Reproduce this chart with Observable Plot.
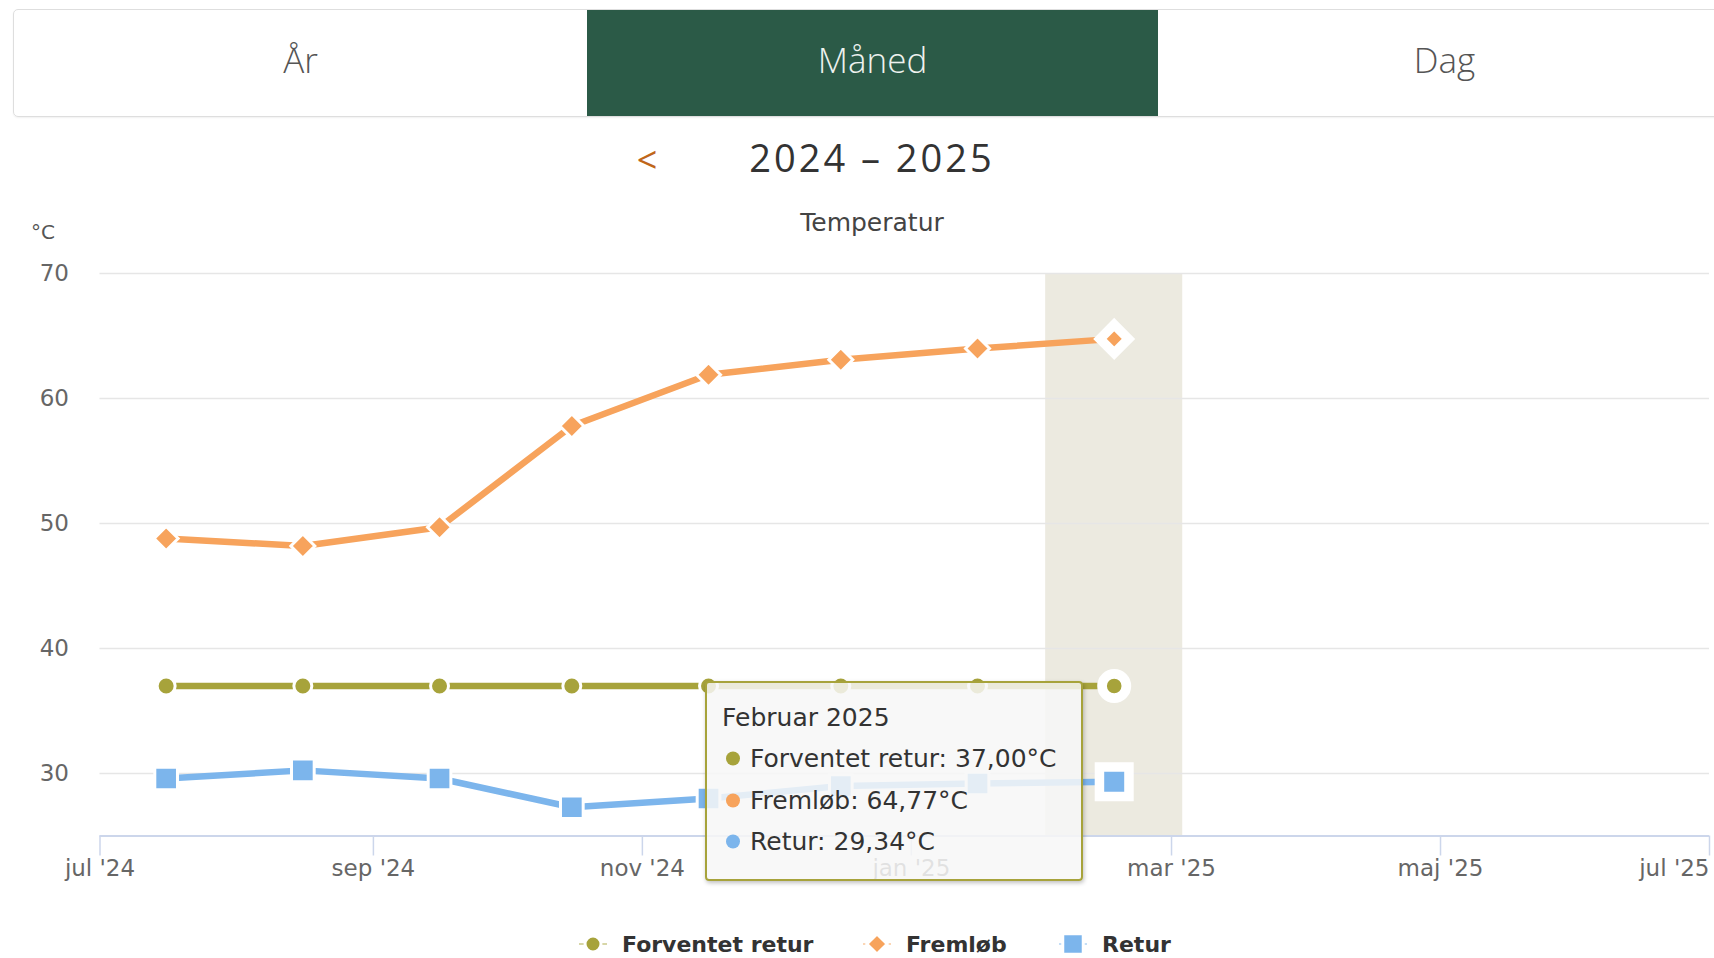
<!DOCTYPE html>
<html>
<head>
<meta charset="utf-8">
<script src="https://cdn.jsdelivr.net/npm/d3@7"></script>
<script src="https://cdn.jsdelivr.net/npm/@observablehq/plot@0.6"></script>
<style>
html, body { margin: 0; padding: 0; background: #fff; overflow: hidden; width: 1714px; height: 958px; }
#root { position: relative; width: 1714px; height: 958px; font-family: "DejaVu Sans", sans-serif; }
.tabs { position: absolute; left: 13px; top: 9px; width: 1717px; height: 106px; border: 1px solid #dedede; border-radius: 5px; box-shadow: 0 1px 2px rgba(0,0,0,0.06); overflow: hidden; }
.tab { position: absolute; top: 0; height: 106px; display: flex; align-items: center; justify-content: center; font-family: "Open Sans", sans-serif; font-weight: 300; font-size: 35px; color: #555; padding-bottom: 8px; box-sizing: border-box; }
.tab.active { background: #2b5a47; color: #eef2ef; }
.abs { position: absolute; transform: translate(-50%, -50%); white-space: nowrap; }
#chart { position: absolute; left: 0; top: 240px; }
.tooltip { position: absolute; box-sizing: border-box; background: rgba(247,247,247,0.85); border-radius: 4px; box-shadow: 1px 2px 4px rgba(0,0,0,0.25); font-family: "DejaVu Sans", sans-serif; font-size: 25px; color: #333; }
.tooltip .row { position: absolute; left: 15px; transform: translateY(-50%); white-space: nowrap; }
.tooltip .bullet { display: inline-block; width: 14px; height: 14px; border-radius: 50%; margin-right: 10px; margin-left: 4px; vertical-align: 1px; }
.legend-item { position: absolute; display: flex; align-items: center; font-family: "DejaVu Sans", sans-serif; font-weight: bold; font-size: 22px; color: #333; transform: translateY(-50%); white-space: nowrap; }
</style>
</head>
<body>
<div id="root"></div>
<script>
// ---------- data ----------
const tabLabels = ["År", "Måned", "Dag"];
const activeTab = 1;
const periodLabel = "2024 – 2025";
const chartTitle = "Temperatur";
const unitLabel = "°C";

const monthDates = ["2024-07-16","2024-08-16","2024-09-16","2024-10-16","2024-11-16","2024-12-16","2025-01-16","2025-02-16"];
const monthNames = ["Juli 2024","August 2024","September 2024","Oktober 2024","November 2024","December 2024","Januar 2025","Februar 2025"];
const forventetRetur = [37, 37, 37, 37, 37, 37, 37, 37];
const fremlob = [48.8, 48.2, 49.7, 57.8, 61.9, 63.1, 64.0, 64.77];
const retur = [29.6, 30.25, 29.6, 27.3, 28.0, 29.0, 29.2, 29.34];

const seriesNames = ["Forventet retur", "Fremløb", "Retur"];
const seriesColors = ["#a7a33b", "#f7a35c", "#7cb5ec"];
const seriesSymbols = ["circle", "diamond2", "square"];

const xDomain = ["2024-07-01", "2025-07-01"];
const tickDates = ["2024-07-01","2024-09-01","2024-11-01","2025-01-01","2025-03-01","2025-05-01","2025-07-01"];
const tickLabels = ["jul '24","sep '24","nov '24","jan '25","mar '25","maj '25","jul '25"];
const yDomain = [25, 70];
const yTicks = [30, 40, 50, 60, 70];
const selectedIndex = 7;

// ---------- build ----------
const root = document.getElementById("root");
const parse = d3.utcParse("%Y-%m-%d");

// tabs
const tabs = document.createElement("div");
tabs.className = "tabs";
const tabEdges = [0, 573, 1144, 1717];
tabLabels.forEach((t, i) => {
  const el = document.createElement("div");
  el.className = "tab" + (i === activeTab ? " active" : "");
  el.style.left = tabEdges[i] + "px";
  el.style.width = (tabEdges[i + 1] - tabEdges[i]) + "px";
  el.textContent = t;
  tabs.appendChild(el);
});
root.appendChild(tabs);

function addText(text, x, y, style) {
  const el = document.createElement("div");
  el.className = "abs";
  el.textContent = text;
  el.style.left = x + "px";
  el.style.top = y + "px";
  Object.assign(el.style, style);
  root.appendChild(el);
  return el;
}
addText("<", 647, 159, {fontFamily: "Open Sans", fontSize: "36px", color: "#c0661a", fontWeight: "400"});
addText(periodLabel, 872, 157, {fontFamily: "Open Sans", fontSize: "38px", color: "#333", letterSpacing: "3px"});
addText(chartTitle, 872, 222, {fontFamily: "DejaVu Sans", fontSize: "25px", color: "#444"});
addText(unitLabel, 43, 232, {fontFamily: "DejaVu Sans", fontSize: "20px", color: "#555"});

// rows
const rows = monthDates.map((d, i) => ({date: parse(d), name: monthNames[i], v: [forventetRetur[i], fremlob[i], retur[i]]}));
const series = seriesNames.map((name, s) => rows.map((r, i) => ({date: r.date, value: r.v[s], i})));
const sel = rows[selectedIndex];
const bandData = [{x1: d3.utcHour.offset(sel.date, -373), x2: d3.utcHour.offset(sel.date, 373)}];
const tickMap = new Map(tickDates.map((d, i) => [+parse(d), tickLabels[i]]));
const lastTick = parse(tickDates[tickDates.length - 1]);

const normalR = [9, 10.8, 12.8];
const hoverR = [12.15, 12.84, 16.65];
const hoverSW = [9.7, 9.55, 9.5];
const axisFont = 23;

const marks = [
  Plot.rect(bandData, {x1: "x1", x2: "x2", fill: "#ecEAE0"}),
  Plot.gridY(yTicks, {stroke: "#e6e6e6", strokeOpacity: 1, strokeWidth: 1.6}),
  Plot.ruleY([yDomain[0]], {stroke: "#ccd6eb", strokeWidth: 2}),
  Plot.axisX(tickDates.map(parse), {
    tickSize: 20, tickPadding: 4, stroke: "#ccd6eb", strokeWidth: 1.5, fill: "#666",
    fontSize: axisFont, tickFormat: (d) => (+d === +lastTick ? "" : tickMap.get(+d)), label: null
  }),
  Plot.text([lastTick], {x: (d) => d, frameAnchor: "bottom", dy: 24, lineAnchor: "top", textAnchor: "end",
    text: (d) => tickMap.get(+d), fill: "#666", fontSize: axisFont}),
  Plot.axisY(yTicks, {tickSize: 0, tickPadding: 31, fill: "#666", fontSize: axisFont, label: null})
];
series.forEach((data, s) => {
  marks.push(Plot.line(data, {x: "date", y: "value", stroke: seriesColors[s], strokeWidth: 6.5}));
  marks.push(Plot.dot(data, {x: "date", y: "value", symbol: seriesSymbols[s], r: normalR[s], fill: seriesColors[s], stroke: "white", strokeWidth: 3}));
});
series.forEach((data, s) => {
  marks.push(Plot.dot(data.filter(d => d.i === selectedIndex), {x: "date", y: "value", symbol: seriesSymbols[s], r: hoverR[s], fill: seriesColors[s], stroke: "white", strokeWidth: hoverSW[s]}));
});

const plot = Plot.plot({
  width: 1714,
  height: 660,
  marginLeft: 99.5,
  marginRight: 5,
  marginTop: 33,
  marginBottom: 64.5,
  x: {type: "utc", domain: xDomain.map(parse)},
  y: {domain: yDomain},
  style: {fontFamily: "DejaVu Sans", background: "transparent", overflow: "visible"},
  marks
});
const chartDiv = document.createElement("div");
chartDiv.id = "chart";
chartDiv.appendChild(plot);
root.appendChild(chartDiv);

// tooltip
const tip = document.createElement("div");
tip.className = "tooltip";
Object.assign(tip.style, {left: "705px", top: "681px", width: "378px", height: "200px", border: "2px solid " + seriesColors[0]});
const header = document.createElement("div");
header.className = "row";
header.style.top = "34px";
header.textContent = sel.name;
tip.appendChild(header);
const fmt = (v) => v.toFixed(2).replace(".", ",") + "°C";
seriesNames.forEach((n, s) => {
  const r = document.createElement("div");
  r.className = "row";
  r.style.top = (75 + s * 41.5) + "px";
  const b = document.createElement("span");
  b.className = "bullet";
  b.style.background = seriesColors[s];
  r.appendChild(b);
  r.appendChild(document.createTextNode(n + ": " + fmt(sel.v[s])));
  tip.appendChild(r);
});
root.appendChild(tip);

// legend
const legendX = [576, 860, 1056];
const legendY = 944;
const symbolPath = (s, size) => d3.symbol(s === "circle" ? d3.symbolCircle : s === "square" ? d3.symbolSquare : d3.symbolDiamond2, size)();
seriesNames.forEach((n, s) => {
  const item = document.createElement("div");
  item.className = "legend-item";
  item.style.left = legendX[s] + "px";
  item.style.top = legendY + "px";
  const svg = d3.create("svg").attr("width", 34).attr("height", 26).style("margin-right", "12px");
  svg.append("line").attr("x1", 3).attr("x2", 31).attr("y1", 13).attr("y2", 13).attr("stroke", seriesColors[s]).attr("stroke-width", 2).attr("stroke-opacity", 0.45);
  const sz = [200, 260, 420][s];
  svg.append("path").attr("transform", "translate(17,13)").attr("d", symbolPath(seriesSymbols[s], sz)).attr("fill", seriesColors[s]).attr("stroke", "white").attr("stroke-width", 3);
  item.appendChild(svg.node());
  item.appendChild(document.createTextNode(n));
  root.appendChild(item);
});
</script>
</body>
</html>
